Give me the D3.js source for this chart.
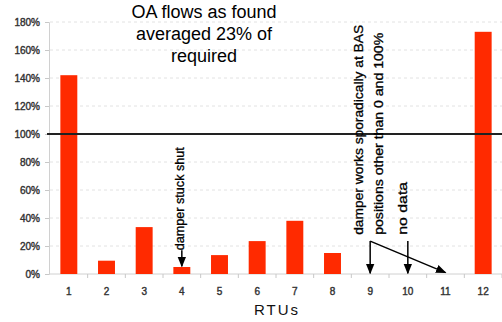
<!DOCTYPE html>
<html>
<head>
<meta charset="utf-8">
<script src="https://cdn.jsdelivr.net/npm/d3@7"></script>
<style>
  body { margin: 0; background: #fff; }
  text { font-family: "Liberation Sans", Arial, sans-serif; }
</style>
</head>
<body>
<svg id="chart"></svg>
<script>
// data
const rtus = ["1", "2", "3", "4", "5", "6", "7", "8", "9", "10", "11", "12"];
const oaFlow = [1.42, 0.095, 0.335, 0.05, 0.135, 0.235, 0.38, 0.15, null, null, null, 1.73];
const yTicks = [0, 0.2, 0.4, 0.6, 0.8, 1.0, 1.2, 1.4, 1.6, 1.8];
const titleLines = ["OA flows as found", "averaged 23% of", "required"];
const xTitle = "RTUs";

const width = 502, height = 322;

const svg = d3.select("#chart")
    .attr("width", width)
    .attr("height", height);

// scales
const x = d3.scaleBand()
    .domain(rtus)
    .range([50, 502])
    .paddingInner(0.55)
    .paddingOuter(0.275);
const y = d3.scaleLinear().domain([0, 1.8]).range([274, 22]);
const cx = d => x(d) + x.bandwidth() / 2;

// dashed gridlines
svg.append("g")
  .selectAll("line")
  .data(yTicks.filter(d => d > 0))
  .join("line")
    .attr("x1", 50).attr("x2", width)
    .attr("y1", d => y(d)).attr("y2", d => y(d))
    .attr("stroke", "#e2e2e2")
    .attr("stroke-dasharray", "3,3");

// y axis
const yAxis = svg.append("g")
    .attr("transform", "translate(49,0)")
    .call(d3.axisLeft(y).tickValues(yTicks).tickFormat(d3.format(".0%")).tickSize(4).tickPadding(5));
yAxis.select(".domain").attr("stroke", "#d0d0d0");
yAxis.selectAll(".tick line").attr("stroke", "#c8c8c8");
yAxis.selectAll(".tick text")
    .attr("font-size", 10)
    .attr("font-family", "Liberation Sans, Arial, sans-serif")
    .attr("fill", "#333")
    .attr("stroke", "#333").attr("stroke-width", 0.4);

// x axis (Excel style: ticks between categories)
const xAxis = svg.append("g").attr("transform", "translate(0,274)");
xAxis.append("line")
    .attr("x1", 49).attr("x2", width)
    .attr("stroke", "#d0d0d0");
xAxis.selectAll(".sep")
  .data(rtus)
  .join("line")
    .attr("class", "sep")
    .attr("x1", d => cx(d) + x.step() / 2)
    .attr("x2", d => cx(d) + x.step() / 2)
    .attr("y1", 0).attr("y2", 4)
    .attr("stroke", "#c8c8c8");
xAxis.selectAll(".lbl")
  .data(rtus)
  .join("text")
    .attr("class", "lbl")
    .attr("x", d => cx(d))
    .attr("y", 21)
    .attr("text-anchor", "middle")
    .attr("font-size", 10)
    .attr("fill", "#333")
    .attr("stroke", "#333").attr("stroke-width", 0.4)
    .text(d => d);

svg.append("text")
    .attr("x", 277).attr("y", 315)
    .attr("text-anchor", "middle")
    .attr("font-size", 15)
    .attr("letter-spacing", 2)
    .attr("fill", "#111")
    .text(xTitle);

// bars
svg.append("g")
  .selectAll("rect")
  .data(rtus.map((d, i) => ({rtu: d, v: oaFlow[i]})).filter(d => d.v != null))
  .join("rect")
    .attr("x", d => x(d.rtu))
    .attr("y", d => y(d.v))
    .attr("width", x.bandwidth())
    .attr("height", d => y(0) - y(d.v))
    .attr("fill", "#ff2a00");

// 100% reference line
svg.append("line")
    .attr("x1", 47).attr("x2", width)
    .attr("y1", y(1)).attr("y2", y(1))
    .attr("stroke", "#222")
    .attr("stroke-width", 2);

// title
svg.append("g")
  .selectAll("text")
  .data(titleLines)
  .join("text")
    .attr("x", 204)
    .attr("y", (d, i) => 18 + i * 22)
    .attr("text-anchor", "middle")
    .attr("font-size", 18)
    .attr("fill", "#000")
    .text(d => d);

// annotations
svg.append("defs").append("marker")
    .attr("id", "arrow")
    .attr("viewBox", "0 0 10 10")
    .attr("refX", 9).attr("refY", 5)
    .attr("markerWidth", 7).attr("markerHeight", 7)
    .attr("orient", "auto")
  .append("path")
    .attr("d", "M0,1 L10,5 L0,9 Z")
    .attr("fill", "#000");

const arrows = [
  {x1: cx("4"), y1: y(0.17), x2: cx("4"), y2: y(0.055)},
  {x1: cx("9"), y1: y(0.235), x2: cx("9"), y2: y(0.005)},
  {x1: cx("9"), y1: y(0.235), x2: cx("11"), y2: y(0.01)},
  {x1: cx("10"), y1: y(0.235), x2: cx("10"), y2: y(0.005)}
];
svg.append("g")
  .selectAll("line")
  .data(arrows)
  .join("line")
    .attr("x1", d => d.x1).attr("y1", d => d.y1)
    .attr("x2", d => d.x2).attr("y2", d => d.y2)
    .attr("stroke", "#000")
    .attr("stroke-width", 1.5)
    .attr("marker-end", "url(#arrow)");

const notes = [
  {text: "damper stuck shut", x: cx("4") - 2, y: y(0.17), len: 103},
  {text: "damper works sporadically at BAS", x: cx("9") - 11, y: y(0.28), len: 210},
  {text: "positions other than 0 and 100%", x: cx("9") + 9, y: y(0.28), len: 202},
  {text: "no data", x: cx("10") - 5, y: y(0.28), len: 53}
];
svg.append("g")
  .selectAll("text")
  .data(notes)
  .join("text")
    .attr("transform", d => "translate(" + d.x + "," + d.y + ") rotate(-90)")
    .attr("dy", "0.35em")
    .attr("font-size", 12)
    .attr("textLength", d => d.len)
    .attr("lengthAdjust", "spacingAndGlyphs")
    .attr("fill", "#000")
    .attr("stroke", "#000").attr("stroke-width", 0.3)
    .text(d => d.text);
</script>
</body>
</html>
